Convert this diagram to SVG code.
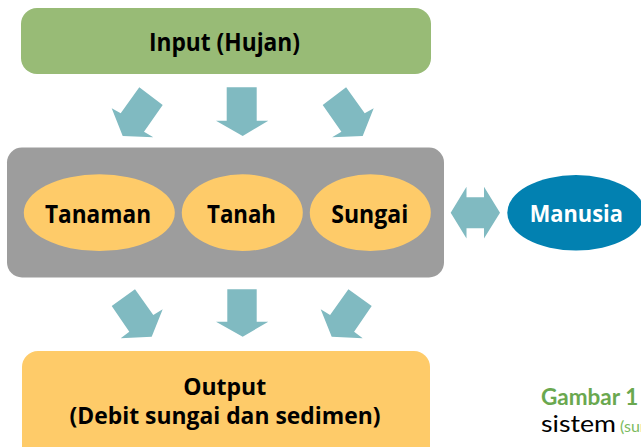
<svg xmlns="http://www.w3.org/2000/svg" width="641" height="447" viewBox="0 0 641 447">
<style>
.lbl{font-family:"Open Sans","Noto Sans","Liberation Sans",sans-serif;font-weight:bold;font-size:24.5px;text-anchor:middle;fill:#000}
.arrow{fill:#80BAC1}
.oval{fill:#FECB69}
</style>
<rect width="641" height="447" fill="#fff"/>
<g id="input">
<rect x="21" y="8" width="410" height="66" rx="16" fill="#98BB76"/>
<text class="lbl" x="224.5" y="50.7" textLength="151" lengthAdjust="spacingAndGlyphs">Input (Hujan)</text>
</g>
<g id="sistem">
<rect x="7" y="147.5" width="437" height="130" rx="15" fill="#9D9D9D"/>
</g>
<g id="tanaman">
<ellipse class="oval" cx="99.3" cy="212.7" rx="75.5" ry="38.4"/>
<text class="lbl" x="98" y="222.7" textLength="106" lengthAdjust="spacingAndGlyphs">Tanaman</text>
</g>
<g id="tanah">
<ellipse class="oval" cx="242.3" cy="212.7" rx="60.5" ry="38.4"/>
<text class="lbl" x="241.5" y="222.7" textLength="69" lengthAdjust="spacingAndGlyphs">Tanah</text>
</g>
<g id="sungai">
<ellipse class="oval" cx="370.3" cy="212.7" rx="60.5" ry="38.4"/>
<text class="lbl" x="369.7" y="222.7" textLength="77" lengthAdjust="spacingAndGlyphs">Sungai</text>
</g>
<g id="manusia">
<ellipse cx="576" cy="212.8" rx="68.7" ry="37.8" fill="#0281B1"/>
<text class="lbl" x="576.3" y="221.7" textLength="93" lengthAdjust="spacingAndGlyphs" style="fill:#fff;font-size:23.5px">Manusia</text>
</g>
<g id="output">
<rect x="22" y="351" width="408" height="115" rx="16" fill="#FECB69"/>
<text class="lbl" x="224.7" y="395" textLength="83" lengthAdjust="spacingAndGlyphs" style="font-size:23px">Output</text>
<text class="lbl" x="225" y="423.5" textLength="311" lengthAdjust="spacingAndGlyphs" style="font-size:23px">(Debit sungai dan sedimen)</text>
</g>
<g id="connectors">
<polygon class="arrow" points="139.3,87.3 162.7,105 144,131.7 153.3,137.3 122.7,136 111.7,108.3 120.7,113.3"/>
<polygon class="arrow" points="226.7,87.3 256.7,87.3 256.7,120.7 268.3,120.7 242.7,136 216,120.7 226.7,120.7"/>
<polygon class="arrow" points="346.1,87.3 322.7,105 341.4,131.7 332.1,137.3 362.7,136 373.7,108.3 364.7,113.3"/>
<polygon class="arrow" points="135,289.3 111.7,306 129.3,331.7 120.7,338.3 151.7,336.7 162.7,309.3 153.3,315"/>
<polygon class="arrow" points="227.3,289.3 256.7,289.3 256.7,321.7 268.3,321.7 242.7,336.7 216,321.7 227.3,321.7"/>
<polygon class="arrow" points="348.4,289.3 371.7,306 354.1,331.7 362.7,338.3 331.7,336.7 320.7,309.3 330.1,315"/>
<polygon class="arrow" points="450.7,212.7 466.5,186.7 466.5,197.3 484,197.3 484,186.7 500,212.7 484,238.5 484,228.3 466.5,228.3 466.5,238.5"/>
</g>
<g id="caption" font-family="Lato,'Open Sans','Liberation Sans',sans-serif">
<text x="541" y="405" font-size="22.5" font-weight="bold" fill="#6AA84F">Gambar 1</text>
<text x="541" y="431.7" font-size="23" fill="#000" textLength="75" lengthAdjust="spacingAndGlyphs">sistem</text>
<text x="620" y="431.7" font-size="16" fill="#7DBB5E">(sun</text>
</g>
</svg>
